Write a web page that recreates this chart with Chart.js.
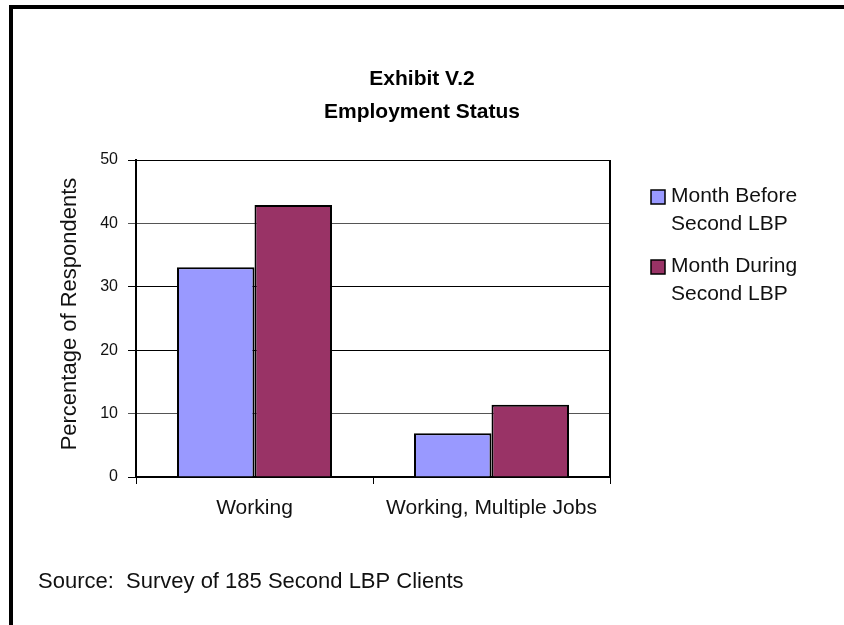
<!DOCTYPE html>
<html>
<head>
<meta charset="utf-8">
<script src="https://cdn.jsdelivr.net/npm/chart.js@4.4.1/dist/chart.umd.min.js"></script>
<style>
  html, body { margin: 0; padding: 0; background: #fff; }
  canvas { display: block; }
</style>
</head>
<body>
<canvas id="empChart" width="844" height="625"></canvas>
<script>
// --- Datos ---
const categories = ['Working', 'Working, Multiple Jobs'];
const monthBefore = [33.1, 6.9];
const monthDuring = [42.9, 11.4];
const seriesLabels = [['Month Before', 'Second LBP'], ['Month During', 'Second LBP']];
const yTicks = [0, 10, 20, 30, 40, 50];
const titleLines = ['Exhibit V.2', 'Employment Status'];
const yTitle = 'Percentage of Respondents';
const sourceNote = 'Source:  Survey of 185 Second LBP Clients';

const FONT = '"Liberation Sans", Arial, sans-serif';

// Marco, título, leyenda y nota de fuente
const decor = {
  id: 'decor',
  beforeDraw(chart) {
    const ctx = chart.ctx;
    ctx.save();
    ctx.fillStyle = '#fff';
    ctx.fillRect(0, 0, chart.width, chart.height);
    ctx.fillStyle = '#000';
    ctx.fillRect(9, 5, chart.width - 9, 4);   // borde superior
    ctx.fillRect(9, 5, 4, chart.height - 5);  // borde izquierdo
    ctx.restore();
  },
  afterDraw(chart) {
    const ctx = chart.ctx;
    const area = chart.chartArea;
    ctx.save();

    // borde derecho del área de trazado
    ctx.strokeStyle = '#000';
    ctx.lineWidth = 2;
    ctx.beginPath();
    ctx.moveTo(area.right, area.top);
    ctx.lineTo(area.right, area.bottom);
    ctx.stroke();

    // título
    ctx.fillStyle = '#000';
    ctx.textAlign = 'center';
    ctx.textBaseline = 'alphabetic';
    ctx.font = 'bold 21px ' + FONT;
    ctx.fillText(titleLines[0], 422, 85);
    ctx.fillText(titleLines[1], 422, 118);

    // título del eje Y
    ctx.font = '22px ' + FONT;
    ctx.fillStyle = '#111';
    ctx.save();
    ctx.translate(76, 314);
    ctx.rotate(-Math.PI / 2);
    ctx.fillText(yTitle, 0, 0);
    ctx.restore();

    // leyenda
    ctx.font = '21px ' + FONT;
    ctx.textAlign = 'left';
    const legendTop = [187, 257];
    chart.data.datasets.forEach((ds, i) => {
      const y0 = legendTop[i];
      ctx.fillStyle = ds.backgroundColor;
      ctx.fillRect(651, y0 + 3, 14, 14);
      ctx.strokeStyle = '#000';
      ctx.lineWidth = 1.5;
      ctx.strokeRect(651, y0 + 3, 14, 14);
      ctx.fillStyle = '#111';
      seriesLabels[i].forEach((line, j) => {
        ctx.fillText(line, 671, y0 + 15 + j * 28);
      });
    });

    // nota de fuente
    ctx.font = '22px ' + FONT;
    ctx.fillText(sourceNote, 38, 588);
    ctx.restore();
  }
};

new Chart(document.getElementById('empChart').getContext('2d'), {
  type: 'bar',
  data: {
    labels: categories,
    datasets: [
      {
        label: seriesLabels[0].join(' '),
        data: monthBefore,
        backgroundColor: '#9999FF',
        borderColor: '#000',
        borderWidth: 2
      },
      {
        label: seriesLabels[1].join(' '),
        data: monthDuring,
        backgroundColor: '#993366',
        borderColor: '#000',
        borderWidth: 2
      }
    ]
  },
  options: {
    responsive: false,
    animation: false,
    devicePixelRatio: 1,
    layout: { padding: { top: 160, right: 234, left: 0, bottom: 0 } },
    datasets: { bar: { categoryPercentage: 0.654, barPercentage: 1 } },
    scales: {
      x: {
        afterFit: s => { s.height = 148; },
        grid: { drawOnChartArea: false, color: '#000', tickLength: 7, offset: true },
        border: { color: '#000', width: 2 },
        ticks: { color: '#111', padding: 12, font: { family: FONT, size: 21 } }
      },
      y: {
        min: 0,
        max: 50,
        afterFit: s => { s.width = 136; },
        afterBuildTicks: s => { s.ticks = yTicks.map(v => ({ value: v })); },
        grid: {
          color: c => (c.tick && (c.tick.value === 10 || c.tick.value === 40)) ? '#555' : '#000',
          lineWidth: 1,
          tickLength: 8
        },
        border: { color: '#000', width: 2 },
        ticks: { color: '#111', padding: 10, font: { family: FONT, size: 16 } }
      }
    },
    plugins: {
      legend: { display: false },
      title: { display: false },
      tooltip: { enabled: false }
    }
  },
  plugins: [decor]
});
</script>
</body>
</html>
